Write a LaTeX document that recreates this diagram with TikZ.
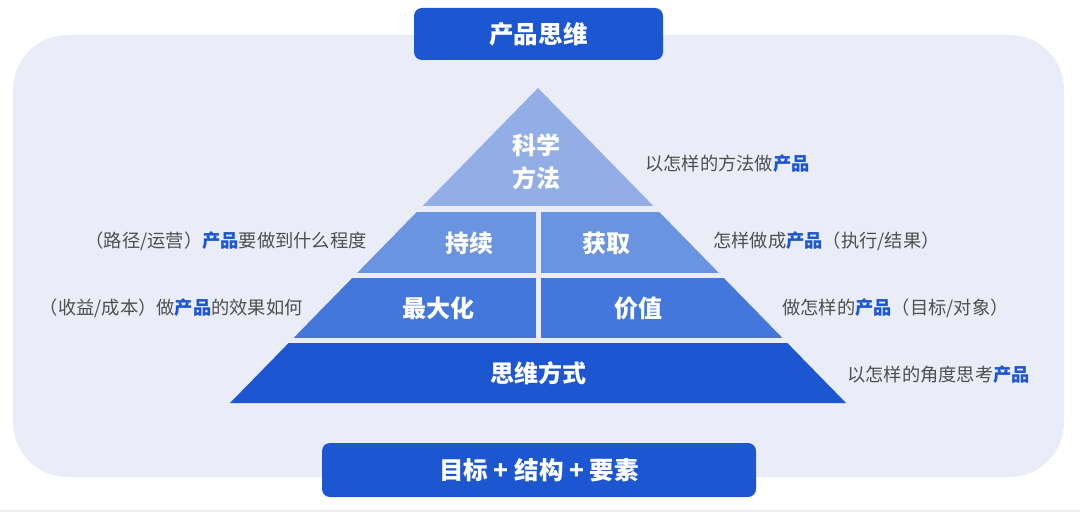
\documentclass[tikz,border=0pt]{standalone}
\usepackage{fontspec}
\setmainfont{Noto Sans CJK SC}
\definecolor{panelbg}{HTML}{EAEDF8}
\definecolor{darkblue}{HTML}{1C56D0}
\definecolor{tierA}{HTML}{93AEE6}
\definecolor{tierB}{HTML}{6A93E0}
\definecolor{tierC}{HTML}{4377DC}
\definecolor{tierD}{HTML}{1C56D0}
\definecolor{labelgray}{HTML}{4F4F4F}
\newcommand{\hlprod}{{\bfseries\color{darkblue}产品}}
\tikzset{
  bluebox/.style={fill=darkblue, rounded corners=6pt},
  boxtext/.style={text=white, font=\fontsize{18.4pt}{22pt}\selectfont\bfseries, inner sep=0pt},
  tiertext/.style={text=white, font=\fontsize{18pt}{25pt}\selectfont\bfseries, inner sep=0pt, align=center},
  sidetext/.style={text=labelgray, font=\fontsize{13.7pt}{16pt}\selectfont, inner sep=0pt}
}
\begin{document}
\begin{tikzpicture}[x=0.75pt, y=-0.75pt]
\useasboundingbox (0,0) rectangle (1080,513);
\fill[white] (0,0) rectangle (1080,513);
\fill[black!7] (0,510) rectangle (1080,512);
% panel
\fill[panelbg, rounded corners=41pt] (13,35) rectangle (1064,477);
% pyramid
\begin{scope}
  \clip (538,88) -- (230,403) -- (846,403) -- cycle;
  \fill[tierA] (200,80) rectangle (880,206);
  \fill[tierB] (200,212) rectangle (535.5,273);
  \fill[tierB] (540.5,212) rectangle (880,273);
  \fill[tierC] (200,278) rectangle (535.5,338);
  \fill[tierC] (540.5,278) rectangle (880,338);
  \fill[tierD] (200,343) rectangle (880,404);
\end{scope}
% title boxes
\fill[bluebox] (414,8) rectangle (663,60);
\node[boxtext] (title) at (538.5,34.5) {产品思维};
\fill[bluebox] (322,443) rectangle (756,497);
\node[boxtext] (bottom) at (539,470) {目标 + 结构 + 要素};
% tier texts
\node[tiertext] (sci) at (536,162) {科学\\方法};
\node[tiertext] (chixu) at (469,243) {持续};
\node[tiertext] (huoqu) at (606,243) {获取};
\node[tiertext] (zuida) at (438,308) {最大化};
\node[tiertext] (jiazhi) at (638,308) {价值};
\node[tiertext] (siwei) at (538,373) {思维方式};
% side labels
\node[sidetext, anchor=west] (r1) at (645,164) {以怎样的方法做\hlprod};
\node[sidetext, anchor=east] (l2) at (367,241) {（路径/运营）\hlprod 要做到什么程度};
\node[sidetext, anchor=west] (r2) at (713,241) {怎样做成\hlprod（执行/结果）};
\node[sidetext, anchor=east] (l3) at (303,308) {（收益/成本）做\hlprod 的效果如何};
\node[sidetext, anchor=west] (r3) at (782,308) {做怎样的\hlprod（目标/对象）};
\node[sidetext, anchor=west] (r4) at (847,375) {以怎样的角度思考\hlprod};
\end{tikzpicture}
\end{document}
